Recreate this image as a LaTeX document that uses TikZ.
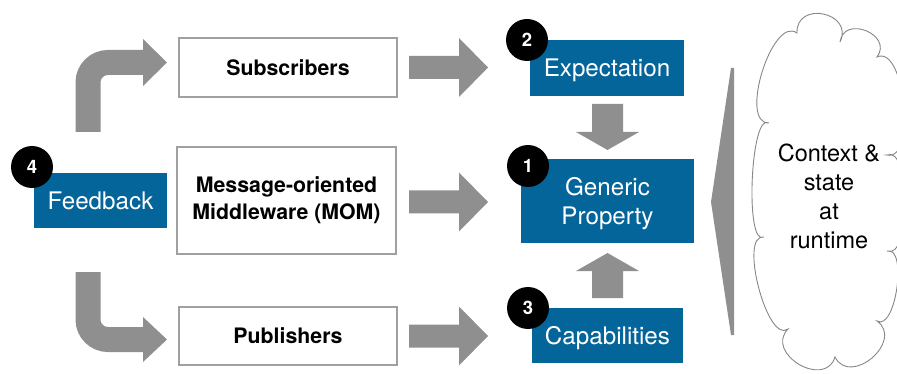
\documentclass[tikz,border=0pt]{standalone}
\usepackage{fontspec}
\setmainfont{TeX Gyre Heros}
\usetikzlibrary{calc}
\definecolor{boxblue}{RGB}{4,101,155}
\definecolor{arrowgray}{RGB}{143,143,143}
\definecolor{edgegray}{RGB}{160,160,160}
\definecolor{cloudgray}{RGB}{135,135,135}
\tikzset{
  whitebox/.style={draw=edgegray, line width=1.1pt, fill=white, inner sep=0pt, align=center,
     font=\fontsize{21.3}{27}\selectfont\bfseries},
  bluebox/.style={fill=boxblue, inner sep=0pt, align=center, text=white, text depth=0pt,
     font=\fontsize{24.2}{28.5}\selectfont},
  numdot/.style={circle, fill=black, minimum size=42pt, inner sep=0pt, text=white,
     font=\fontsize{18.5}{18.5}\selectfont\bfseries},
  blockarrow/.style={fill=arrowgray, draw=none},
  bentarrow/.style={draw=arrowgray, line width=25pt, rounded corners=20pt},
  cloudline/.style={draw=cloudgray, line width=0.9pt, fill=white}
}
\newcommand{\blockR}[3]{%
  \fill[blockarrow] (#1,#2-11.5) -- (#3-29,#2-11.5) -- (#3-29,#2-29.5) -- (#3,#2)
    -- (#3-29,#2+29.5) -- (#3-29,#2+11.5) -- (#1,#2+11.5) -- cycle;}
\begin{document}
\begin{tikzpicture}[x=1pt,y=-1pt]
\useasboundingbox (0,0) rectangle (897,374);

% cloud
\begin{scope}
\clip (0,0) rectangle (897,374);
\draw[cloudline] (797,33)
  .. controls (795.8,0.1) and (854.4,12.3) .. (840,42)
  .. controls (843.6,14.4) and (893.6,34.6) .. (877,57)
  .. controls (904.9,44.1) and (916.9,162.1) .. (887,155)
  .. controls (911,145) and (911,261) .. (887,251)
  .. controls (907.9,245.9) and (895.7,331.7) .. (877,321)
  .. controls (904.6,340.9) and (850.4,387.3) .. (835,357)
  .. controls (825.1,389.5) and (764.3,353.3) .. (788,329)
  .. controls (767.3,344.8) and (738.3,233.4) .. (764,237)
  .. controls (744.5,248.2) and (750.5,110.2) .. (769,123)
  .. controls (738.3,123.9) and (772.3,14.9) .. (797,33) -- cycle;
\end{scope}
\node[align=center, font=\fontsize{23.5}{29}\selectfont] (ctx) at (829,196)
  {Context \&\\state\\at\\runtime};

% big left-pointing wedge
\fill[blockarrow] (731,68) -- (734,68) -- (734,335) -- (731,335) -- (711,202) -- cycle;

% white boxes
\node[whitebox, minimum width=218pt, minimum height=59pt] (sub) at (288,67.5) {Subscribers};
\node[whitebox, minimum width=219pt, minimum height=107pt] (mom) at (286.5,200.5)
  {Message-oriented\\Middleware (MOM)};
\node[whitebox, minimum width=218pt, minimum height=58pt] (pub) at (288,336) {Publishers};

% blue boxes
\node[bluebox, minimum width=154pt, minimum height=56pt] (exp) at (607,68) {Expectation};
\node[bluebox, minimum width=173pt, minimum height=84pt] (gen) at (607.5,201) {Generic\\Property};
\node[bluebox, minimum width=151pt, minimum height=55pt] (cap) at (607.5,335.5) {Capabilities};
\node[bluebox, minimum width=133pt, minimum height=55pt] (fb) at (100.5,200.5) {Feedback};

% right arrows
\blockR{409}{67.5}{488}
\blockR{409}{202}{488}
\blockR{409}{336}{488}

% vertical arrows
\fill[blockarrow] (592,104) -- (623,104) -- (623,132) -- (639,132) -- (607.5,150)
  -- (576,132) -- (592,132) -- cycle;
\fill[blockarrow] (592,298) -- (623,298) -- (623,271) -- (639,271) -- (607.5,253)
  -- (576,271) -- (592,271) -- cycle;

% bent arrows from feedback
\coordinate (bt0) at (88,132);
\coordinate (bt1) at (88,62.5);
\coordinate (bt2) at (144,62.5);
\draw[bentarrow] (bt0) -- (bt1) -- (bt2);
\fill[blockarrow] (143,39) -- (167,62.5) -- (143,86) -- cycle;
\coordinate (bb0) at (88,272);
\coordinate (bb1) at (88,339.5);
\coordinate (bb2) at (144,339.5);
\draw[bentarrow] (bb0) -- (bb1) -- (bb2);
\fill[blockarrow] (143,317) -- (167,339.5) -- (143,362) -- cycle;

% number badges
\node[numdot] (n1) at (528,166) {1};
\node[numdot] (n2) at (527,40) {2};
\node[numdot] (n3) at (528,308) {3};
\node[numdot] (n4) at (32,167) {4};
\end{tikzpicture}
\end{document}
